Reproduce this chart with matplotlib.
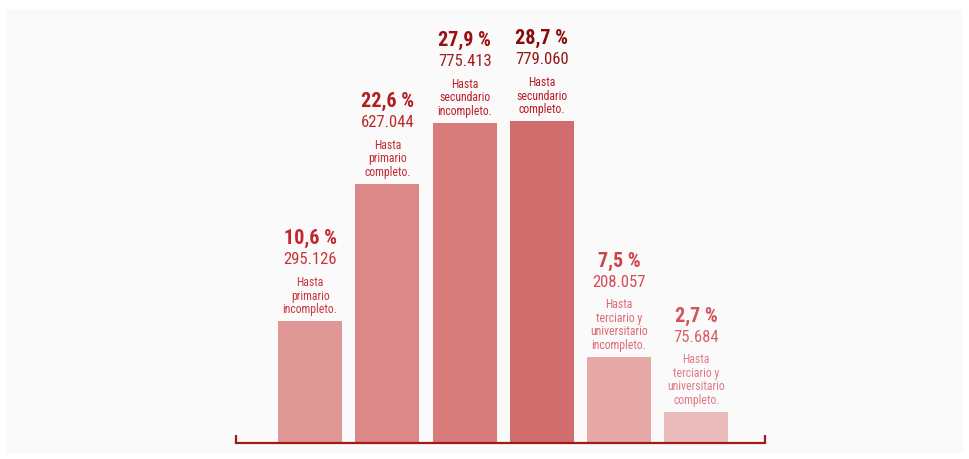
import matplotlib
matplotlib.use("Agg")
import matplotlib.pyplot as plt
from matplotlib.patches import Rectangle

# datos
pcts = ["10,6 %", "22,6 %", "27,9 %", "28,7 %", "7,5 %", "2,7 %"]
values = [295126, 627044, 775413, 779060, 208057, 75684]
value_labels = ["295.126", "627.044", "775.413", "779.060", "208.057", "75.684"]
categories = [
    "Hasta\nprimario\nincompleto.",
    "Hasta\nprimario\ncompleto.",
    "Hasta\nsecundario\nincompleto.",
    "Hasta\nsecundario\ncompleto.",
    "Hasta\nterciario y\nuniversitario\nincompleto.",
    "Hasta\nterciario y\nuniversitario\ncompleto.",
]

bar_colors = ["#e09896", "#dc8788", "#d77b7b", "#d26d6d", "#e7a9a8", "#ebbcbc"]
pct_colors = ["#c4262e", "#b41c1e", "#9c0f10", "#8a0a0a", "#cf4049", "#d3535b"]
num_colors = ["#c9343b", "#bb2a2c", "#a31c1d", "#941616", "#d24d55", "#d86068"]
cat_colors = ["#cc3540", "#c42a33", "#bb1f28", "#b81c24", "#dd6a74", "#e07c85"]

font = ["Roboto Condensed", "Roboto", "DejaVu Sans"]

W, H = 969, 459
fig = plt.figure(figsize=(W / 100, H / 100), dpi=100)
fig.patch.set_facecolor("white")

# panel gris de fondo
fig.patches.append(Rectangle((6 / W, 6 / H), 957 / W, 444 / H,
                             transform=fig.transFigure, facecolor="#fafafa",
                             edgecolor="none", zorder=-10))

ax = fig.add_axes([236 / W, 16 / H, (765 - 236) / W, (443 - 9) / H])
ax.set_facecolor("none")

x = list(range(len(values)))
ax.bar(x, values, width=0.83, color=bar_colors, zorder=2)

ax.set_xlim(-0.96, 5.89)
ax.set_ylim(0, 1050800)

for i in x:
    n_lines = categories[i].count("\n") + 1
    ax.annotate(categories[i], (i, values[i]), xytext=(0, 5),
                textcoords="offset pixels", ha="center", va="bottom",
                fontsize=8.5, color=cat_colors[i], family=font,
                linespacing=1.06)
    off = 5 + n_lines * 13 + 10
    ax.annotate(value_labels[i], (i, values[i]), xytext=(0, off),
                textcoords="offset pixels", ha="center", va="bottom",
                fontsize=12, color=num_colors[i], family=font)
    ax.annotate(pcts[i], (i, values[i]), xytext=(0, off + 19),
                textcoords="offset pixels", ha="center", va="bottom",
                fontsize=14.5, fontweight="bold", color=pct_colors[i],
                family=font)

# eje inferior con topes
for s in ["top", "right", "left"]:
    ax.spines[s].set_visible(False)
ax.spines["bottom"].set_color("#a01c1c")
ax.spines["bottom"].set_linewidth(1.6)
ax.set_xticks([])
ax.set_yticks([])
ax.plot([0, 0], [0, 0.018], transform=ax.transAxes, color="#a01c1c",
        lw=1.6, clip_on=False, solid_capstyle="butt")
ax.plot([1, 1], [0, 0.018], transform=ax.transAxes, color="#a01c1c",
        lw=1.6, clip_on=False, solid_capstyle="butt")

fig.savefig("out.png", dpi=100)
